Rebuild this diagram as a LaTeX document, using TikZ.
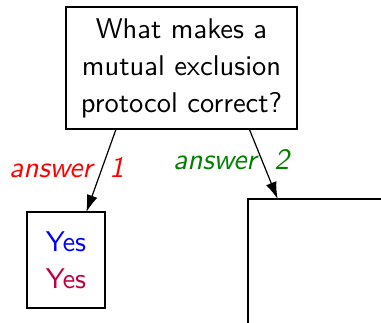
\documentclass[tikz,border=0pt]{standalone}
\usepackage{fontspec}
\setsansfont{lmsans10-regular.otf}[ItalicFont=lmsans10-oblique.otf]
\renewcommand{\familydefault}{\sfdefault}
\usepackage{tikz}
\usetikzlibrary{arrows.meta}

\tikzset{
  box/.style={draw, line width=1.3pt, inner sep=0pt, outer sep=0pt, align=center,
              font=\fontsize{28.5}{37}\selectfont},
  ans/.style={inner sep=0pt, anchor=base west, font=\fontsize{29.5}{37}\selectfont\itshape},
  link/.style={line width=1.2pt, -{Latex[length=17pt,width=11pt]}}
}

\begin{document}
\begin{tikzpicture}[x=1pt,y=1pt]
\useasboundingbox (0,0) rectangle (381,322);

\node[box, minimum width=231pt, minimum height=122pt] (q) at (181.5,254) {What makes a\\mutual exclusion\\protocol correct?};
\node[box, minimum width=78pt, minimum height=96pt] (a1) at (66,62) {\color{blue}Yes\\\color{purple}Yes};
\node[box, minimum width=172pt, minimum height=161pt] (a2) at (334,42.5) {};

\draw[link] (q.-137.7) -- (a1.67.4);
\draw[link] (q.-42.8) -- (a2.125.3);

\node[ans, text=red] (l1) at (9,144) {answer\hspace{17pt}1};
\node[ans, text=green!50!black] (l2) at (173,152.5) {answer\hspace{18pt}2};
\end{tikzpicture}
\end{document}
